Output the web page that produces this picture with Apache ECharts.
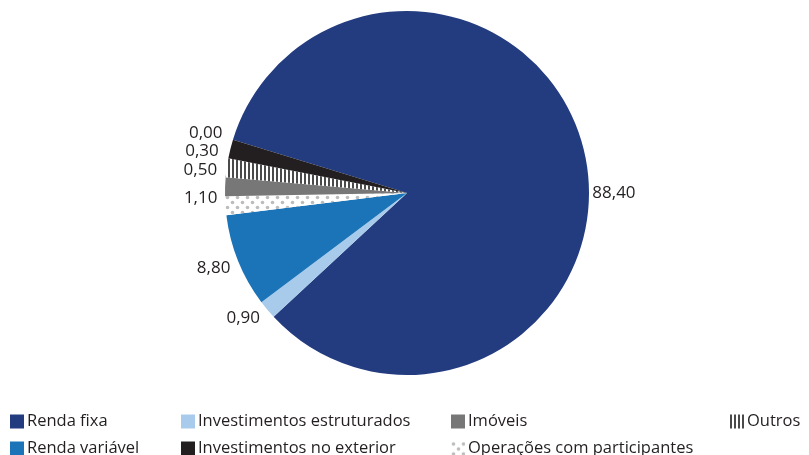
<!DOCTYPE html>
<html>
<head>
<meta charset="utf-8">
<script src="https://cdn.jsdelivr.net/npm/echarts@6/dist/echarts.min.js"></script>
<style>html,body{margin:0;padding:0;background:#fff}#c{width:809px;height:455px}</style>
</head>
<body>
<div id="c"></div>
<script>
// Data (order clockwise from the start of "Renda fixa")
var categories = ['Renda fixa', 'Investimentos estruturados', 'Renda variável', 'Operações com participantes', 'Imóveis', 'Outros', 'Investimentos no exterior'];
var values = [88.40, 0.90, 8.80, 1.10, 0.50, 0.30, 0.00];
// vertical placement of each value label (layout only)
var labelY = [193, 318, 268, 198, 170, 151, 133];

function dotPattern() {
  var c = document.createElement('canvas'); c.width = 10; c.height = 10;
  var g = c.getContext('2d');
  g.fillStyle = '#ffffff'; g.fillRect(0, 0, 10, 10);
  g.fillStyle = '#bcbcbc';
  g.beginPath(); g.arc(2.5, 2.5, 1.8, 0, Math.PI * 2); g.fill();
  g.beginPath(); g.arc(7.5, 7.5, 1.8, 0, Math.PI * 2); g.fill();
  return c;
}
function stripePattern() {
  var c = document.createElement('canvas'); c.width = 4; c.height = 4;
  var g = c.getContext('2d');
  g.fillStyle = '#ffffff'; g.fillRect(0, 0, 4, 4);
  g.fillStyle = '#4a4a4a'; g.fillRect(0, 0, 2, 4);
  return c;
}
var colors = {
  'Renda fixa': '#233b7f',
  'Investimentos estruturados': '#a8cbec',
  'Renda variável': '#1a74b7',
  'Operações com participantes': { image: dotPattern(), repeat: 'repeat' },
  'Imóveis': '#777777',
  'Outros': { image: stripePattern(), repeat: 'repeat' },
  'Investimentos no exterior': '#231f20'
};

var chart = echarts.init(document.getElementById('c'), null, { renderer: 'canvas' });
var fmt = function (v) { return v.toFixed(2).replace('.', ','); };

var legendPos = {
  'Renda fixa': [10, 413],
  'Investimentos estruturados': [181, 413],
  'Imóveis': [451, 413],
  'Outros': [730, 413],
  'Renda variável': [10, 440],
  'Investimentos no exterior': [181, 440],
  'Operações com participantes': [451, 440]
};
var legends = Object.keys(legendPos).map(function (n) {
  return {
    data: [{ name: n, icon: 'rect' }],
    left: legendPos[n][0], top: legendPos[n][1],
    itemWidth: 14, itemHeight: 14, itemGap: 0,
    padding: 0,
    selectedMode: false,
    textStyle: { fontFamily: 'Open Sans', fontSize: 16.5, color: '#231f20', padding: [0, 0, 0, -2] }
  };
});

chart.setOption({
  animation: false,
  legend: legends,
  series: [{
    type: 'pie',
    center: [407, 193],
    radius: 182,
    startAngle: 163,
    clockwise: true,
    minAngle: 6,
    avoidLabelOverlap: false,
    label: {
      show: true, position: 'outside',
      fontFamily: 'Open Sans', fontSize: 17, color: '#231f20',
      formatter: function (p) { return fmt(p.value); }
    },
    labelLine: { show: false, length: 3, length2: 0 },
    labelLayout: function (p) {
      return { y: labelY[p.dataIndex], verticalAlign: 'middle' };
    },
    emphasis: { disabled: true },
    data: categories.map(function (n, i) {
      return { name: n, value: values[i], itemStyle: { color: colors[n] } };
    })
  }]
});
</script>
</body>
</html>
